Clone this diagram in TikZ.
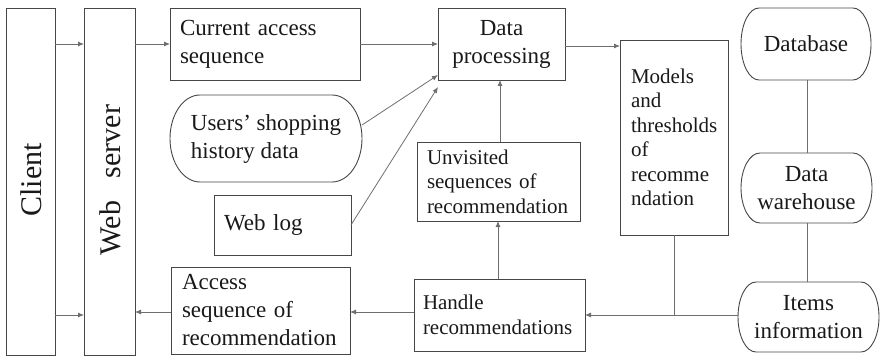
\documentclass[tikz,border=0pt]{standalone}
\usepackage{fontspec}
\setmainfont{Liberation Serif}
\usetikzlibrary{arrows.meta}
\definecolor{boxc}{RGB}{70,70,70}
\definecolor{linec}{RGB}{110,110,110}
\definecolor{txt}{RGB}{25,25,25}
\tikzset{
  bx/.style={draw=boxc, line width=0.9pt, inner sep=0pt, outer sep=0pt, text=txt,
    font=\fontsize{23}{28}\selectfont},
  ebx/.style={bx, draw=none},
  eline/.style={draw=boxc, line width=0.9pt},
  smallf/.style={font=\fontsize{21}{24.5}\selectfont},
  lefttxt/.style={align=left, inner xsep=10pt},
  ctrtxt/.style={align=center},
  arr/.style={draw=linec, line width=0.8pt, -{Latex[length=6pt,width=5pt]}},
  ln/.style={draw=linec, line width=0.8pt},
  lbl/.style={text=txt, inner sep=0pt, font=\fontsize{30}{34}\selectfont}
}
% rectangle with elliptical corners around node #1, radii #2 (x) and #3 (y)
\newcommand{\ellrect}[3]{%
  \draw[eline] ([xshift=#2]#1.north west) -- ([xshift=-#2]#1.north east)
    arc[start angle=90, end angle=0, x radius=#2, y radius=#3]
    -- ([yshift=#3]#1.south east)
    arc[start angle=0, end angle=-90, x radius=#2, y radius=#3]
    -- ([xshift=#2]#1.south west)
    arc[start angle=-90, end angle=-180, x radius=#2, y radius=#3]
    -- ([yshift=-#3]#1.north west)
    arc[start angle=180, end angle=90, x radius=#2, y radius=#3] -- cycle;}
\begin{document}
\begin{tikzpicture}[x=1pt,y=-1pt]
\useasboundingbox (0,0) rectangle (880,358);
% left columns
\node[bx, minimum width=49, minimum height=347] (client) at (30.5,181.5) {};
\node[lbl, rotate=90] (clientlbl) at (31,180) {Client};
\node[bx, minimum width=51, minimum height=347] (web) at (109.5,181.5) {};
\node[lbl, rotate=90] (weblbl) at (110,180) {Web\ \ \ server};
% middle-left boxes
\node[bx, lefttxt, minimum width=190, minimum height=72, text width=170] (cur) at (265,44) {Current access\\sequence};
\node[ebx, ctrtxt, minimum width=192, minimum height=87] (users) at (266,138.5) {\begin{tabular}{@{}l@{}}Users’ shopping\\history data\end{tabular}};
\ellrect{users}{30pt}{43.5pt}
\node[bx, lefttxt, minimum width=137, minimum height=60, text width=117] (weblog) at (282.5,225) {Web log};
\node[bx, lefttxt, minimum width=179, minimum height=87, text width=157, inner xsep=11pt] (acc) at (260.5,310.5) {Access\\sequence of\\recommendation};
% middle
\node[bx, ctrtxt, minimum width=127, minimum height=72] (dp) at (501.5,44) {Data\\processing};
\node[bx, smallf, lefttxt, minimum width=163, minimum height=79, text width=143] (unv) at (498.5,181.5) {Unvisited\\sequences of\\recommendation};
\node[bx, smallf, lefttxt, minimum width=171, minimum height=72, text width=153, inner xsep=9pt] (handle) at (499.5,315) {Handle\\recommendations};
\node[bx, smallf, lefttxt, minimum width=108, minimum height=195, text width=86, inner xsep=11pt] (models) at (674,137.5) {Models\\and\\thresholds\\of\\recomme\\ndation};
% right
\node[ebx, ctrtxt, minimum width=130, minimum height=72] (db) at (806,44) {Database};
\ellrect{db}{18pt}{36pt}
\node[ebx, ctrtxt, minimum width=131, minimum height=70] (dw) at (806.5,188) {Data\\warehouse};
\ellrect{dw}{19pt}{35pt}
\node[ebx, ctrtxt, minimum width=141, minimum height=70] (items) at (808.5,317) {Items\\information};
\ellrect{items}{18pt}{35pt}
% connectors
\draw[arr] (client.east |- cur.west) -- (web.west |- cur.west);
\draw[arr] (client.east |- handle.east) -- (web.west |- handle.east);
\draw[arr] (web.east |- cur.west) -- (cur.west);
\draw[arr] (acc.west |- 0,312) -- (web.east |- 0,312);
\draw[arr] (handle.west |- 0,312) -- (acc.east |- 0,312);
\draw[arr] (cur.east) -- (dp.west |- cur.east);
\coordinate (dpin1) at (438,75);
\coordinate (dpin2) at (438,87);
\coordinate (usersout) at (362,125);
\draw[arr] (usersout) -- (dpin1);
\draw[arr] (weblog.east) -- (dpin2);
\draw[arr] (unv.north -| 500,0) -- (dp.south -| 500,0);
\draw[arr] (handle.north -| 498,0) -- (unv.south -| 498,0);
\draw[arr] (dp.east |- 0,46) -- (models.west |- 0,46);
\draw[arr] (items.west |- handle.east) -- (handle.east);
\draw[ln] (models.south) -- (models.south |- handle.east);
\draw[ln] (db.south -| 807,0) -- (dw.north -| 807,0);
\draw[ln] (dw.south -| 807,0) -- (items.north -| 807,0);
\end{tikzpicture}
\end{document}
